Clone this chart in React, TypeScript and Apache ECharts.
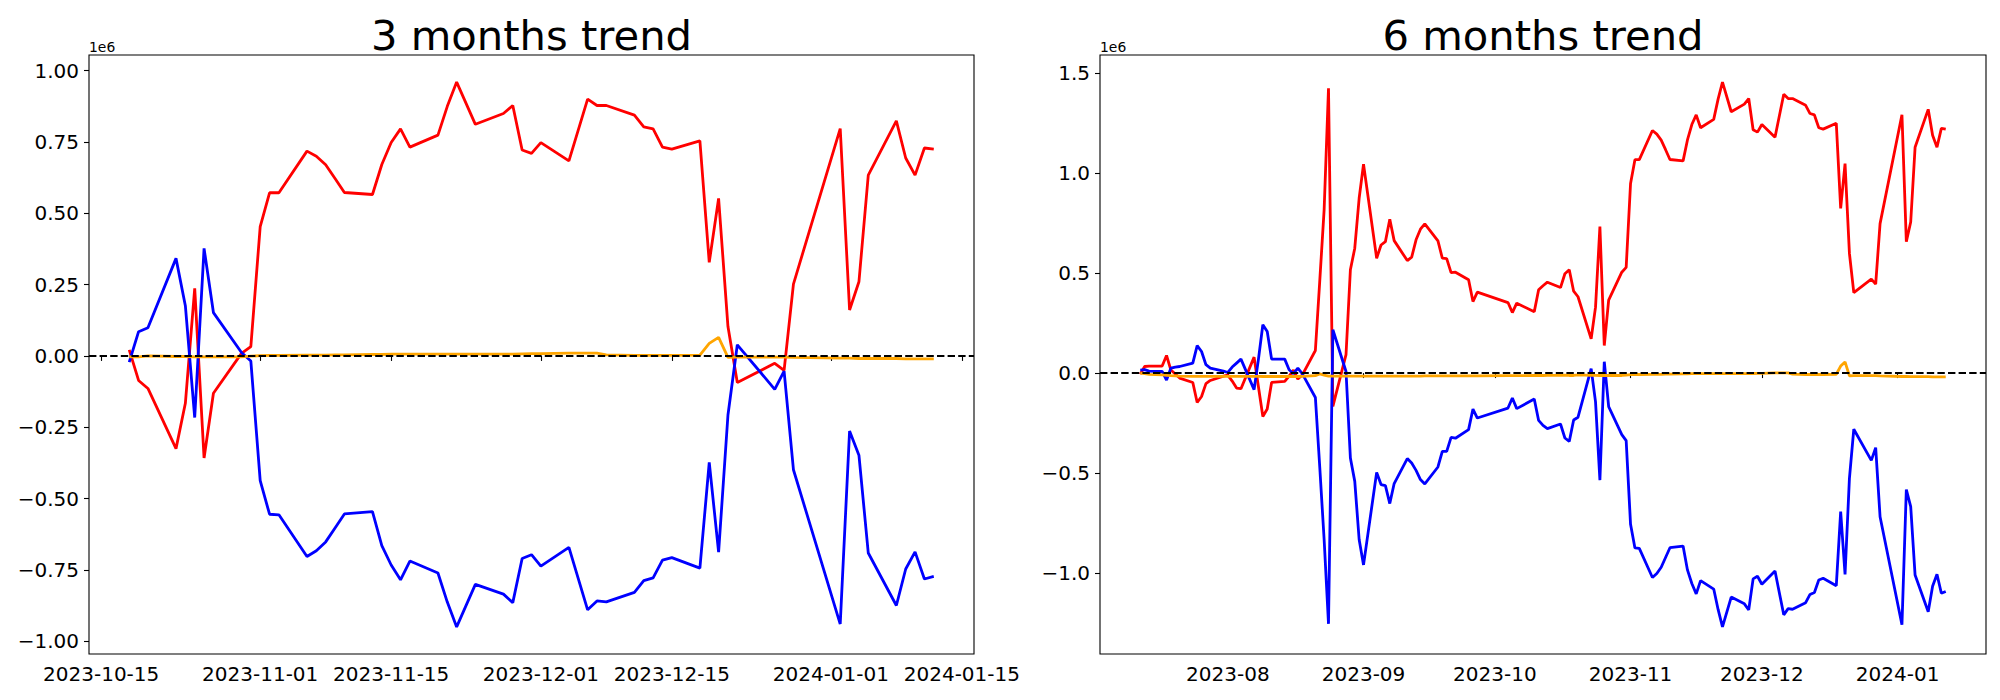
import React, { useEffect, useRef } from "react";
import * as echarts from "echarts";

// ---------- data (values in units of 1e6) ----------
const DATES_3M: string[] = [
  "2023-10-18", "2023-10-19", "2023-10-20", "2023-10-23", "2023-10-24", "2023-10-25", "2023-10-26", "2023-10-27", "2023-10-30", "2023-10-31",
  "2023-11-01", "2023-11-02", "2023-11-03", "2023-11-06", "2023-11-07", "2023-11-08", "2023-11-09", "2023-11-10", "2023-11-13", "2023-11-14",
  "2023-11-15", "2023-11-16", "2023-11-17", "2023-11-20", "2023-11-21", "2023-11-22", "2023-11-24", "2023-11-27", "2023-11-28", "2023-11-29",
  "2023-11-30", "2023-12-01", "2023-12-04", "2023-12-06", "2023-12-07", "2023-12-08", "2023-12-11", "2023-12-12", "2023-12-13", "2023-12-14",
  "2023-12-15", "2023-12-18", "2023-12-19", "2023-12-20", "2023-12-21", "2023-12-22", "2023-12-26", "2023-12-27", "2023-12-28", "2024-01-02",
  "2024-01-03", "2024-01-04", "2024-01-05", "2024-01-08", "2024-01-09", "2024-01-10", "2024-01-11", "2024-01-12",
];

const RED_3M: number[] = [
  0.021, -0.086, -0.114, -0.325, -0.166, 0.237, -0.358, -0.131, 0.009, 0.033,
  0.453, 0.572, 0.572, 0.718, 0.700, 0.670, 0.622, 0.573, 0.566, 0.671,
  0.748, 0.796, 0.732, 0.774, 0.875, 0.960, 0.812, 0.850, 0.878, 0.722,
  0.710, 0.748, 0.684, 0.900, 0.878, 0.878, 0.844, 0.803, 0.796, 0.732,
  0.725, 0.754, 0.328, 0.552, 0.103, -0.093, -0.026, -0.051, 0.252, 0.797,
  0.161, 0.260, 0.634, 0.824, 0.694, 0.634, 0.729, 0.725,
];

const BLUE_3M: number[] = [
  -0.022, 0.085, 0.099, 0.342, 0.176, -0.216, 0.377, 0.152, 0.012, -0.018,
  -0.437, -0.555, -0.557, -0.703, -0.683, -0.652, -0.603, -0.554, -0.546, -0.665,
  -0.733, -0.785, -0.719, -0.761, -0.863, -0.950, -0.801, -0.835, -0.865, -0.710,
  -0.697, -0.737, -0.671, -0.890, -0.859, -0.862, -0.829, -0.788, -0.778, -0.716,
  -0.707, -0.744, -0.373, -0.688, -0.207, 0.039, -0.117, -0.053, -0.399, -0.940,
  -0.263, -0.348, -0.691, -0.875, -0.747, -0.687, -0.782, -0.773,
];

const ORANGE_3M: number[] = [
  -0.003, -0.003, 0.0, -0.002, -0.002, -0.003, -0.003, -0.003, -0.003, -0.001,
  0.001, 0.002, 0.002, 0.003, 0.003, 0.003, 0.004, 0.004, 0.005, 0.005,
  0.006, 0.006, 0.006, 0.006, 0.006, 0.006, 0.006, 0.006, 0.006, 0.007,
  0.008, 0.008, 0.010, 0.010, 0.010, 0.004, 0.002, 0.002, 0.002, 0.002,
  0.002, 0.003, 0.044, 0.065, -0.005, -0.004, -0.004, -0.004, -0.005, -0.008,
  -0.008, -0.009, -0.009, -0.009, -0.010, -0.010, -0.010, -0.010,
];

const DATES_BEFORE_3M: string[] = [
  "2023-07-12", "2023-07-13", "2023-07-14", "2023-07-17", "2023-07-18", "2023-07-19", "2023-07-20", "2023-07-21", "2023-07-24", "2023-07-25",
  "2023-07-26", "2023-07-27", "2023-07-28", "2023-07-31",
  "2023-08-01", "2023-08-02", "2023-08-03", "2023-08-04", "2023-08-07", "2023-08-08", "2023-08-09", "2023-08-10", "2023-08-11", "2023-08-14",
  "2023-08-15", "2023-08-16", "2023-08-17", "2023-08-18", "2023-08-21", "2023-08-22", "2023-08-23", "2023-08-24", "2023-08-25", "2023-08-28",
  "2023-08-29", "2023-08-30", "2023-08-31",
  "2023-09-01", "2023-09-04", "2023-09-05", "2023-09-06", "2023-09-07", "2023-09-08", "2023-09-11", "2023-09-12", "2023-09-13", "2023-09-14",
  "2023-09-15", "2023-09-18", "2023-09-19", "2023-09-20", "2023-09-21", "2023-09-22", "2023-09-25", "2023-09-26", "2023-09-27",
  "2023-10-04", "2023-10-05", "2023-10-06", "2023-10-10", "2023-10-11", "2023-10-12", "2023-10-13", "2023-10-16", "2023-10-17",
];

const DATES_6M: string[] = [...DATES_BEFORE_3M, ...DATES_3M];

const RED_6M: number[] = [
  -0.005, 0.033, 0.035, 0.035, 0.088, 0.015, -0.005, -0.025, -0.047, -0.147, -0.117, -0.053, -0.037, -0.015,
  -0.010, -0.040, -0.075, -0.078, 0.080, -0.070, -0.217, -0.180, -0.047, -0.042, -0.015, 0.015, -0.030, -0.010,
  0.113, 0.460, 0.817, 1.425, -0.167, 0.092, 0.517, 0.625, 0.875,
  1.045, 0.575, 0.641, 0.658, 0.770, 0.663, 0.563, 0.580, 0.667, 0.720, 0.747, 0.662, 0.575, 0.573, 0.503, 0.505,
  0.467, 0.358, 0.405,
  0.353, 0.303, 0.350, 0.307, 0.417, 0.437, 0.455, 0.428, 0.497,
  0.517, 0.410, 0.382, 0.171, 0.330, 0.733, 0.138, 0.365, 0.505, 0.529,
  0.949, 1.068, 1.068, 1.214, 1.196, 1.166, 1.118, 1.069, 1.062, 1.167,
  1.244, 1.292, 1.228, 1.270, 1.371, 1.456, 1.308, 1.346, 1.374, 1.218,
  1.206, 1.244, 1.180, 1.396, 1.374, 1.374, 1.340, 1.299, 1.292, 1.228,
  1.221, 1.250, 0.824, 1.048, 0.599, 0.403, 0.470, 0.445, 0.748, 1.293,
  0.657, 0.756, 1.130, 1.320, 1.190, 1.130, 1.225, 1.221,
];

const BLUE_6M: number[] = [
  0.015, 0.017, 0.010, 0.008, -0.035, 0.025, 0.030, 0.033, 0.050, 0.137, 0.108, 0.042, 0.025, 0.010,
  0.003, 0.030, 0.050, 0.070, -0.083, 0.070, 0.242, 0.208, 0.070, 0.070, 0.017, -0.003, 0.025, -0.003,
  -0.122, -0.470, -0.833, -1.255, 0.217, 0.008, -0.425, -0.542, -0.833,
  -0.960, -0.497, -0.558, -0.563, -0.653, -0.553, -0.428, -0.450, -0.487, -0.533, -0.555, -0.470, -0.392, -0.392,
  -0.322, -0.326, -0.283, -0.180, -0.225,
  -0.175, -0.125, -0.178, -0.130, -0.237, -0.262, -0.278, -0.255, -0.325,
  -0.342, -0.235, -0.221, 0.022, -0.144, -0.536, 0.057, -0.168, -0.308, -0.338,
  -0.757, -0.875, -0.877, -1.023, -1.003, -0.972, -0.923, -0.874, -0.866, -0.985,
  -1.053, -1.105, -1.039, -1.081, -1.183, -1.270, -1.121, -1.155, -1.185, -1.030,
  -1.017, -1.057, -0.991, -1.210, -1.179, -1.182, -1.149, -1.108, -1.098, -1.036,
  -1.027, -1.064, -0.693, -1.008, -0.527, -0.281, -0.437, -0.373, -0.719, -1.260,
  -0.583, -0.668, -1.011, -1.195, -1.067, -1.007, -1.102, -1.093,
];

const ORANGE_6M: number[] = [
  0.0, -0.003, -0.006, -0.009, -0.011, -0.013, -0.014, -0.015, -0.016, -0.016, -0.016, -0.016, -0.016, -0.016,
  -0.016, -0.016, -0.016, -0.016, -0.016, -0.016, -0.017, -0.017, -0.017, -0.017, -0.017, -0.017, -0.017, -0.016,
  -0.013, -0.004, -0.010, -0.015, -0.015, -0.015, -0.015, -0.015, -0.015,
  -0.015, -0.015, -0.015, -0.015, -0.015, -0.015, -0.015, -0.015, -0.015, -0.015, -0.014, -0.014, -0.014, -0.014,
  -0.014, -0.014, -0.014, -0.014, -0.014,
  -0.013, -0.013, -0.013, -0.012, -0.012, -0.012, -0.011, -0.011, -0.010,
  -0.012, -0.012, -0.009, -0.011, -0.011, -0.012, -0.012, -0.012, -0.012, -0.010,
  -0.008, -0.007, -0.007, -0.006, -0.006, -0.006, -0.005, -0.005, -0.004, -0.004,
  -0.003, -0.003, -0.003, -0.003, -0.003, -0.003, -0.003, -0.003, -0.003, -0.002,
  -0.001, -0.001, 0.001, 0.001, 0.001, -0.005, -0.007, -0.007, -0.007, -0.007,
  -0.007, -0.006, 0.035, 0.056, -0.014, -0.013, -0.013, -0.013, -0.014, -0.017,
  -0.017, -0.018, -0.018, -0.018, -0.019, -0.019, -0.019, -0.019,
];

// tick labels
const X_TICKS_3M: string[] = ["2023-10-15", "2023-11-01", "2023-11-15", "2023-12-01", "2023-12-15", "2024-01-01", "2024-01-15"];
const X_TICKS_6M: string[] = ["2023-08-01", "2023-09-01", "2023-10-01", "2023-11-01", "2023-12-01", "2024-01-01"];
const Y_TICKS_3M: number[] = [-1, -0.75, -0.5, -0.25, 0, 0.25, 0.5, 0.75, 1];
const Y_TICKS_6M: number[] = [-1, -0.5, 0, 0.5, 1, 1.5];

const TITLES = ["3 months trend", "6 months trend"];
const COLORS = { red: "#ff0000", blue: "#0000ff", orange: "#ffa500" };

// ---------- helpers ----------
const toTs = (s: string): number => {
  const [d, t] = s.split(" ");
  const [y, m, day] = d.split("-").map(Number);
  let hh = 0, mm = 0;
  if (t) [hh, mm] = t.split(":").map(Number);
  return new Date(y, m - 1, day, hh, mm).getTime();
};
const pad = (n: number) => (n < 10 ? "0" + n : "" + n);
const nearestDay = (v: number) => new Date(Math.round(v / 3600000) * 3600000);
const fmtDay = (v: number) => {
  const d = nearestDay(v);
  return `${d.getFullYear()}-${pad(d.getMonth() + 1)}-${pad(d.getDate())}`;
};
const fmtMonth = (v: number) => {
  const d = nearestDay(v);
  return `${d.getFullYear()}-${pad(d.getMonth() + 1)}`;
};
const fmtNum = (dec: number) => (v: number) => {
  const s = Math.abs(v).toFixed(dec);
  return v < -1e-9 ? "\u2212" + s : s;
};

const FONT = "DejaVu Sans";
const TICK_FS = 20;

export default function App() {
  const ref = useRef<HTMLDivElement>(null);

  useEffect(() => {
    if (!ref.current) return;
    const chart = echarts.init(ref.current, undefined, { renderer: "svg" });

    const grids = [
      { left: 89, top: 55, width: 885, height: 599 },
      { left: 1100, top: 55, width: 886, height: 599 },
    ];

    const xRanges = [
      [toTs("2023-10-13 16:48"), toTs("2024-01-16 07:12")],
      [toTs("2023-07-02 19:12"), toTs("2024-01-21 04:48")],
    ];
    const yRanges = [
      [-1.045, 1.055],
      [-1.406, 1.592],
    ];

    const mkX = (i: number, ticks: string[], fmt: (v: number) => string) => ({
      type: "value",
      gridIndex: i,
      min: xRanges[i][0],
      max: xRanges[i][1],
      scale: true,
      axisLine: { show: false },
      splitLine: { show: false },
      axisTick: {
        show: true,
        length: 5,
        customValues: ticks.map(toTs),
        lineStyle: { color: "#000", width: 1.1 },
      },
      axisLabel: {
        customValues: ticks.map(toTs),
        formatter: fmt,
        color: "#000",
        fontSize: TICK_FS,
        fontFamily: FONT,
        margin: 10,
        hideOverlap: false,
      },
    });

    const mkY = (i: number, ticks: number[], dec: number) => ({
      type: "value",
      gridIndex: i,
      min: yRanges[i][0],
      max: yRanges[i][1],
      axisLine: { show: false },
      splitLine: { show: false },
      axisTick: {
        show: true,
        length: 5,
        customValues: ticks,
        lineStyle: { color: "#000", width: 1.1 },
      },
      axisLabel: {
        customValues: ticks,
        formatter: fmtNum(dec),
        color: "#000",
        fontSize: TICK_FS,
        fontFamily: FONT,
        margin: 10,
      },
    });

    const mkLine = (i: number, dates: string[], vals: number[], color: string, zeroLine: boolean) => ({
      type: "line",
      xAxisIndex: i,
      yAxisIndex: i,
      data: dates.map((d, k) => [toTs(d), vals[k]]),
      showSymbol: false,
      symbol: "none",
      lineStyle: { color, width: 2.8 },
      itemStyle: { color },
      emphasis: { disabled: true },
      silent: true,
      ...(zeroLine
        ? {
            markLine: {
              silent: true,
              symbol: "none",
              label: { show: false },
              lineStyle: { color: "#000", type: [7.4, 3.2], width: 2.1 },
              data: [{ yAxis: 0 }],
            },
          }
        : {}),
    });

    const graphics: any[] = [];
    grids.forEach((g, i) => {
      graphics.push({
        type: "text",
        x: g.left + g.width / 2,
        y: 35,
        style: {
          text: TITLES[i],
          font: `41.7px "${FONT}"`,
          fill: "#000",
          align: "center",
          verticalAlign: "middle",
        },
      });
      graphics.push({
        type: "text",
        x: g.left,
        y: 46.5,
        style: {
          text: "1e6",
          font: `13.9px "${FONT}"`,
          fill: "#000",
          align: "left",
          verticalAlign: "middle",
        },
      });
    });

    chart.setOption({
      animation: false,
      backgroundColor: "#fff",
      grid: grids.map((g) => ({
        ...g,
        show: true,
        borderColor: "#000",
        borderWidth: 1.1,
        backgroundColor: "transparent",
        containLabel: false,
      })),
      xAxis: [mkX(0, X_TICKS_3M, fmtDay), mkX(1, X_TICKS_6M, fmtMonth)],
      yAxis: [mkY(0, Y_TICKS_3M, 2), mkY(1, Y_TICKS_6M, 1)],
      series: [
        mkLine(0, DATES_3M, RED_3M, COLORS.red, false),
        mkLine(0, DATES_3M, BLUE_3M, COLORS.blue, false),
        mkLine(0, DATES_3M, ORANGE_3M, COLORS.orange, true),
        mkLine(1, DATES_6M, RED_6M, COLORS.red, false),
        mkLine(1, DATES_6M, BLUE_6M, COLORS.blue, false),
        mkLine(1, DATES_6M, ORANGE_6M, COLORS.orange, true),
      ],
      graphic: graphics,
    });

    return () => chart.dispose();
  }, []);

  return (
    <div
      ref={ref}
      style={{ position: "fixed", left: 0, top: 0, width: 2000, height: 700, background: "#fff" }}
    />
  );
}
